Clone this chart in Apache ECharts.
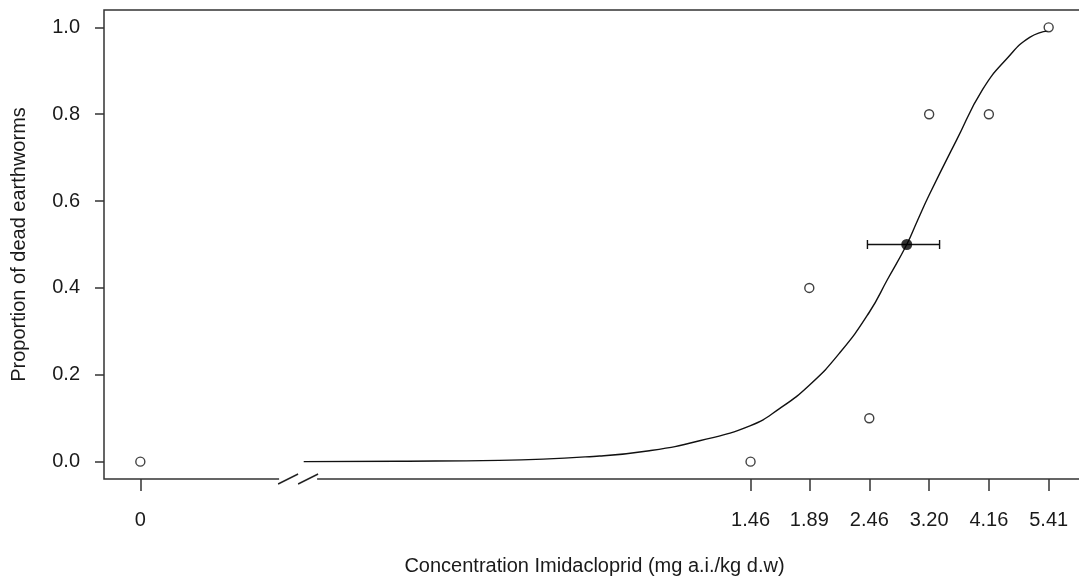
<!DOCTYPE html>
<html>
<head>
<meta charset="utf-8">
<title>Imidacloprid dose-response</title>
<script src="https://cdn.jsdelivr.net/npm/echarts@6/dist/echarts.min.js"></script>
<style>
  html, body { margin: 0; padding: 0; background: #fff; overflow: hidden; }
  #chart { width: 1079px; height: 581px; }
</style>
</head>
<body>
<div id="chart"></div>
<script>
// Tested concentrations (mg a.i./kg d.w); the control (0) is drawn at CONTROL_POS on the log axis
const doses = [0, 1.46, 1.89, 2.46, 3.20, 4.16, 5.41];
const doseLabels = ['0', '1.46', '1.89', '2.46', '3.20', '4.16', '5.41'];
const mortality = [0.0, 0.0, 0.4, 0.1, 0.8, 0.8, 1.0];
const CONTROL_POS = 0.1;

// LC50 estimate with its confidence interval
const lc50 = 2.90;
const lc50Low = 2.44;
const lc50High = 3.35;

// Fitted dose-response curve (concentration, proportion dead)
const curveConc = [0.205, 0.312, 0.484, 0.752, 0.936, 1.167, 1.46, 1.658, 1.89, 2.159, 2.46, 2.666, 2.90, 3.042, 3.20, 3.611, 4.048, 4.518, 4.977, 5.41];
const curveProp = [0.000, 0.001, 0.003, 0.013, 0.025, 0.048, 0.083, 0.122, 0.176, 0.250, 0.344, 0.420, 0.500, 0.556, 0.614, 0.741, 0.857, 0.930, 0.977, 0.992];

// y-axis ticks
const yTicks = [0, 0.2, 0.4, 0.6, 0.8, 1.0];

// axis break drawn between the control and the first dose
const BREAK_AT = 0.2;

const INK = '#1a1a1a';
const FONT = 'Liberation Sans, Arial, sans-serif';

const xTickVals = doses.map(d => d === 0 ? CONTROL_POS : d);
// 4% padding on each side of the (log) data range
const logSpan = Math.log10(doses[doses.length - 1] / CONTROL_POS);
const pad = Math.pow(10, 0.04 * logSpan);
const xMin = CONTROL_POS / pad;
const xMax = doses[doses.length - 1] * pad;

const pointData = doses.map((d, i) => [d === 0 ? CONTROL_POS : d, mortality[i]]);
const curveData = curveConc.map((c, i) => [c, curveProp[i]]);

function xLabel(v) {
  let best = 0, bestDiff = Infinity;
  xTickVals.forEach((t, i) => {
    const diff = Math.abs(Math.log(v) - Math.log(t));
    if (diff < bestDiff) { bestDiff = diff; best = i; }
  });
  return doseLabels[best];
}

const chart = echarts.init(document.getElementById('chart'), null, { renderer: 'canvas' });

chart.setOption({
  animation: false,
  backgroundColor: '#fff',
  grid: {
    // the plot frame runs a few pixels past the right edge of the canvas
    left: 104, top: 10, bottom: 102, right: -6,
    outerBoundsMode: 'none',
    containLabel: false,
    show: true, borderColor: '#333', borderWidth: 1.5, backgroundColor: 'transparent'
  },
  xAxis: {
    type: 'log',
    logBase: 10,
    min: xMin,
    max: xMax,
    name: 'Concentration Imidacloprid (mg a.i./kg d.w)',
    nameLocation: 'middle',
    nameGap: 77,
    nameTextStyle: { color: INK, fontSize: 20, fontFamily: FONT },
    axisLine: { show: false, onZero: false },
    axisTick: { show: true, inside: false, length: 12, customValues: xTickVals, lineStyle: { color: '#333', width: 1.5 } },
    axisLabel: {
      customValues: xTickVals,
      formatter: xLabel,
      margin: 31,
      color: INK, fontSize: 20, fontFamily: FONT
    },
    splitLine: { show: false },
    minorTick: { show: false }
  },
  yAxis: {
    type: 'value',
    min: -0.04,
    max: 1.04,
    name: 'Proportion of dead earthworms',
    nameLocation: 'middle',
    nameGap: 75,
    nameTextStyle: { color: INK, fontSize: 20, fontFamily: FONT },
    axisLine: { show: false, onZero: false },
    axisTick: { show: true, inside: false, length: 9, customValues: yTicks, lineStyle: { color: '#333', width: 1.5 } },
    axisLabel: {
      customValues: yTicks,
      formatter: v => v.toFixed(1),
      margin: 24,
      color: INK, fontSize: 20, fontFamily: FONT
    },
    splitLine: { show: false }
  },
  series: [
    {
      name: 'fit',
      type: 'line',
      data: curveData,
      smooth: 0.5,
      showSymbol: false,
      lineStyle: { color: '#111', width: 1.4 },
      z: 2
    },
    {
      name: 'observed',
      type: 'scatter',
      data: pointData,
      symbol: 'circle',
      symbolSize: 9,
      itemStyle: { color: '#fff', borderColor: '#111', borderWidth: 1.4 },
      z: 3
    },
    {
      name: 'LC50 CI',
      type: 'custom',
      data: [[lc50Low, lc50High, 0.5]],
      encode: { x: [0, 1], y: 2 },
      renderItem: function (params, api) {
        const l = api.coord([api.value(0), api.value(2)]);
        const r = api.coord([api.value(1), api.value(2)]);
        const cap = 4.5;
        const style = { stroke: '#111', lineWidth: 1.4 };
        return {
          type: 'group',
          children: [
            { type: 'line', shape: { x1: l[0], y1: l[1], x2: r[0], y2: r[1] }, style: style },
            { type: 'line', shape: { x1: l[0], y1: l[1] - cap, x2: l[0], y2: l[1] + cap }, style: style },
            { type: 'line', shape: { x1: r[0], y1: r[1] - cap, x2: r[0], y2: r[1] + cap }, style: style }
          ]
        };
      },
      z: 4
    },
    {
      name: 'LC50',
      type: 'scatter',
      data: [[lc50, 0.5]],
      symbol: 'circle',
      symbolSize: 11,
      itemStyle: { color: '#000' },
      z: 5
    }
  ]
});

// axis break marks on the x axis
function drawBreak() {
  const p = chart.convertToPixel({ gridIndex: 0 }, [BREAK_AT, 0]);
  const yAxisPix = chart.convertToPixel({ gridIndex: 0 }, [BREAK_AT, -0.04])[1];
  const cx = p[0];
  const slash = (dx) => ({
    type: 'line',
    shape: { x1: cx + dx - 10, y1: yAxisPix + 5, x2: cx + dx + 10, y2: yAxisPix - 5 },
    style: { stroke: '#222', lineWidth: 1.4 },
    z: 101
  });
  chart.setOption({
    graphic: [
      {
        type: 'rect',
        shape: { x: cx - 19, y: yAxisPix - 3, width: 38, height: 6 },
        style: { fill: '#fff' },
        z: 100
      },
      slash(-10),
      slash(10)
    ]
  });
}
drawBreak();
</script>
</body>
</html>
